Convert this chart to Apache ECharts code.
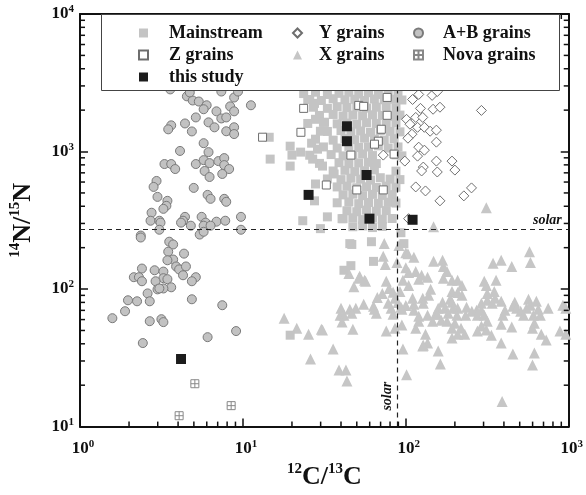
<!DOCTYPE html>
<html><head><meta charset="utf-8">
<script src="https://cdn.jsdelivr.net/npm/echarts@6.0.0/dist/echarts.min.js"></script>
<style>html,body{margin:0;padding:0;background:#fff}#c{width:586px;height:495px}</style>
</head><body><div id="c"></div>
<script>
// ---- data: [12C/13C, 14N/15N] ----
const mainstream = [
[23.6,2640],[27.9,2700],[33.0,2600],[38.9,2650],[44.7,2700],[51.4,2620],[59.0,2680],[67.8,2600],[77.9,2660],[89.5,2640],
[25.7,2390],[30.3,2350],[35.8,2420],[42.3,2380],[48.6,2400],[55.8,2350],[64.1,2410],[73.7,2380],[84.7,2400],[94.6,2370],
[27.1,2100],[33.0,2060],[37.9,2120],[43.5,2090],[50.0,2110],[57.4,2070],[65.9,2100],[75.8,2130],[87.0,2080],
[29.5,1830],[35.8,1860],[41.2,1810],[47.3,1840],[54.3,1820],[62.4,1850],[71.7,1830],[82.4,1800],[92.0,1840],
[25.0,1600],[31.2,1630],[37.9,1590],[43.5,1610],[50.0,1580],[57.4,1620],[65.9,1600],[75.8,1590],[87.0,1620],
[33.0,1400],[40.0,1420],[46.0,1390],[52.8,1410],[60.7,1380],[69.7,1420],[80.1,1400],[92.0,1390],
[27.9,1230],[35.8,1210],[42.3,1240],[48.6,1220],[55.8,1250],[64.1,1230],[73.7,1210],[84.7,1240],
[31.2,1080],[37.9,1060],[44.7,1090],[51.4,1070],[59.0,1080],[67.8,1100],[77.9,1060],[89.5,1080],
[25.7,940],[34.8,950],[41.2,930],[47.3,945],[54.3,960],[62.4,935],[87.0,945],[94.6,930],
[29.5,820],[38.9,830],[44.7,815],[51.4,826],[59.0,835],[65.9,818],
[35.8,722],[42.3,730],[48.6,715],[55.8,725],[64.1,735],[87.0,720],
[33.0,632],[40.0,625],[46.0,640],[52.8,630],[60.7,620],[69.7,645],[80.1,630],[92.0,625],
[37.9,553],[43.5,560],[50.0,545],[57.4,555],[65.9,548],[75.8,560],[87.0,550],
[41.2,484],[47.3,490],[54.3,478],[62.4,488],[71.7,480],[82.4,486],
[37.9,424],[44.7,430],[51.4,418],[59.0,426],[67.8,420],[77.9,428],[87.0,422],
[43.5,371],[50.0,365],[57.4,375],[65.9,368],[75.8,372],
[41.2,325],[47.3,330],[54.3,320],[62.4,328],[71.7,322],[82.4,326],
[47.3,284],[54.3,288],[62.4,280],[71.7,285],
[14.5,1270],[14.7,881],[19.5,1094],[20.0,942],[22.6,990],[19.5,784],[25.0,2390],[27.5,2240],[27.9,1715],[31.7,1630],
[29.9,1404],[26.4,1150],[28.7,1040],[26.8,881],[30.8,784],[36.3,687],[27.9,581],[27.5,438],[23.3,314],[29.9,275],
[33.0,335],[40.6,325],[46.6,211],[61.5,221],[63.3,159],[46.0,148],[41.7,137],[93.3,257],[97.3,214],[19.5,46.2],[45.3,214]
];
const yGrains = [
[120,2600],[110,2390],[145,2560],[156,2730],[123,2060],[147,2030],[162,2100],[291,1990],[101,1715],[106,1580],
[115,1770],[127,1770],[118,1500],[130,1500],[141,1405],[154,1430],[109,1336],[103,1250],[154,1170],[120,1076],
[130,1023],[118,926],[72.7,942],[98.6,852],[154,852],[192,852],[128,771],[125,722],[156,710],[200,733],
[115,553],[132,517],[162,438],[227,476],[253,544],[104,325]
];
const abGrains = [
[3.58,2830],[4.53,2520],[4.92,2350],[5.36,2310],[5.99,2170],[5.74,2030],[6.88,1960],[7.37,1740],[7.9,1770],[8.35,2130],
[8.83,2470],[9.33,2730],[8.83,1960],[11.2,2170],[5.14,1770],[3.63,1550],[3.48,1450],[4.41,1600],[4.86,1400],[6.15,1630],
[6.69,1500],[7.9,1404],[8.83,1501],[8.83,1340],[5.74,1150],[4.11,1010],[6.15,990],[3.3,811],[3.63,811],[3.84,746],
[5.14,811],[5.74,866],[6.24,824],[7.07,852],[7.68,896],[7.68,797],[8.23,746],[5.82,722],[6.24,653],[7.47,687],
[2.95,611],[2.83,553],[4.99,544],[2.99,468],[6.07,484],[6.33,453],[7.68,453],[7.9,431],[3.44,438],[3.39,403],
[3.25,383],[2.75,359],[2.71,314],[3.07,314],[4.41,335],[4.29,314],[5.58,335],[5.9,304],[6.88,309],[7.79,314],
[9.73,335],[3.12,304],[3.07,270],[4.17,304],[4.79,289],[5.74,289],[6.33,289],[5.43,249],[5.74,261],[9.73,270],
[2.36,245],[2.36,237],[3.53,221],[3.73,211],[3.48,187],[3.73,164],[3.44,162],[4.35,181],[3.89,146],[4.06,139],
[4.47,146],[4.29,126],[5.14,122],[4.86,114],[2.4,141],[2.14,122],[2.3,122],[2.4,114],[2.87,137],[3.25,134],
[3.25,120],[3.44,118],[2.91,114],[3.63,103],[3.25,101],[2.99,99.5],[3.07,101],[2.6,93],[1.97,82.9],[2.24,81.5],
[2.68,81.5],[1.89,69],[1.58,61.4],[2.68,58.4],[3.16,60.4],[3.25,57.5],[4.86,84.3],[7.47,76.3],[2.43,40.5],[6.07,44.7],
[9.08,49.5],[4.72,2690],[7.37,2730]
];
const zGrains = [
[13.2,1271],[22.7,1380],[23.6,2060],[51.4,2165],[55.1,2130],[76.8,2474],[76.8,1834],[70.7,1452],[67.8,1189],[64.2,1131],
[46.0,942],[84.7,958],[32.5,571],[50.0,526],[72.7,526]
];
const xGrains = [
[312,390],[148,284],[73.7,214],[90.7,207],[574,187],[385,162],[343,154],[447,146],[582,156],[72.7,173],
[74.8,151],[100,184],[112,170],[88.2,156],[148,159],[168,162],[170,146],[179,134],[100,143],[104,132],
[115,134],[125,126],[136,122],[120,118],[96,116],[104,106],[92,96],[51.4,120],[56.6,114],[48,104],
[44.7,130],[75.8,114],[79,101],[71.7,93],[66.8,87],[83.5,95],[85.8,85.7],[89.5,80],[100,76],[94.6,71.3],
[81.2,72.5],[83.5,65.6],[63.3,75],[65.9,66.7],[55.1,77.5],[49.3,72.5],[45.3,71.3],[40,72.5],[41.7,64.5],[39.5,64.5],
[40.6,57.5],[47.3,51.1],[75.8,49.5],[85.8,52],[94.6,54.7],[25.3,47],[30.8,50.3],[21.4,52],[17.9,61.4],[26,31],
[35.8,36.6],[38.9,25.8],[42.9,25.8],[43.5,21.5],[96,36.6],[101,23.8],[127,38.5],[136,40.5],[132,47],[115,52],
[120,58.4],[136,64.5],[146,58.4],[152,65.6],[138,90],[142,99.5],[127,85.7],[128,78.9],[110,85.7],[112,77.5],
[112,70.1],[120,63.5],[170,120],[192,116],[208,116],[221,106],[192,96],[208,94.6],[221,90],[187,84.3],
[192,80.2],[168,80.2],[174,72.5],[195,72.5],[208,72.5],[182,66.7],[206,64.5],[233,64.5],[158,72.5],[156,65.6],
[165,59.4],[179,58.4],[200,56.5],[192,52],[218,52],[208,47],[230,47],[192,44],[236,73.7],[254,69],
[272,70.1],[291,70.1],[275,64.5],[303,64.5],[291,78.9],[316,82.9],[339,78.9],[353,85.7],[385,81.5],[316,93],
[349,96],[312,106],[303,114],[358,116],[316,58.4],[291,53.8],[275,49.5],[312,50.3],[335,46.2],[385,55.6],
[395,64.5],[406,70.1],[447,52.9],[454,75],[466,80.2],[479,72.5],[507,69],[528,64.5],[551,72.5],[566,84.3],
[582,76.3],[633,81.5],[607,64.5],[669,64.5],[650,71.3],[748,72.5],[615,56.5],[599,52],[678,47],[727,42.6],
[920,76.3],[959,72.5],[883,49.5],[959,47],[385,40.5],[454,33.7],[615,34.3],[599,28.1],[390,15.2],[158,35.5],
[163,28.5],[128,39.1],[103,181],[77.9,78.9],[93.3,73.7],[64.1,71.3],[55.8,116],[52.1,124],[46.6,66.7],[30.3,51.1]
];
const novaGrains = [[5.07,20.5],[8.47,14.2],[4.06,12.0]];
const thisStudy = [[43.5,1526],[43.5,1189],[57.4,675],[25.3,484],[59.8,325],[110,319],[4.17,31.0]];
const solarC = 89;   // solar 12C/13C
const solarN = 272;  // solar 14N/15N
const xMinorTicks = [2,3,4,5,6,7,8,9,20,30,40,50,60,70,80,90,200,300,400,500,600,700,800,900];
const yMinorTicks = [20,30,40,50,60,70,80,90,200,300,400,500,600,700,800,900,2000,3000,4000,5000,6000,7000,8000,9000];
const X_MIN = 1, X_MAX = 1000, Y_MIN = 10, Y_MAX = 10000;

const FONT = 'Liberation Serif';
const chart = echarts.init(document.getElementById('c'), null, {renderer: 'canvas'});

function expLabel(v) {
  const e = Math.round(Math.log10(v));
  return '{b|10}{s|' + e + '}';
}
const labelRich = {
  b: {fontFamily: FONT, fontWeight: 'bold', fontSize: 17, color: '#111', lineHeight: 20},
  s: {fontFamily: FONT, fontWeight: 'bold', fontSize: 11, color: '#111', verticalAlign: 'top', lineHeight: 12}
};
const nameRich = {
  b: {fontFamily: FONT, fontWeight: 'bold', fontSize: 26, color: '#111', lineHeight: 30},
  s: {fontFamily: FONT, fontWeight: 'bold', fontSize: 15, color: '#111', verticalAlign: 'top', lineHeight: 16}
};
const axisLine = {show: true, onZero: false, lineStyle: {color: '#111', width: 2}};
const axisTick = {show: true, inside: true, length: 8, lineStyle: {color: '#111', width: 1.5}};

function minorTickSeries(values, isX) {
  return {
    type: 'custom', silent: true, z: 8, clip: false,
    data: values.map(v => isX ? [v, 100] : [10, v]),
    renderItem: function (params, api) {
      const L = 5, st = {stroke: '#111', lineWidth: 1.5};
      if (isX) {
        const v = api.value(0);
        const a = api.coord([v, Y_MIN]), b = api.coord([v, Y_MAX]);
        return {type: 'group', children: [
          {type: 'line', shape: {x1: a[0], y1: a[1], x2: a[0], y2: a[1] - L}, style: st},
          {type: 'line', shape: {x1: b[0], y1: b[1], x2: b[0], y2: b[1] + L}, style: st}
        ]};
      } else {
        const v = api.value(1);
        const a = api.coord([X_MIN, v]), b = api.coord([X_MAX, v]);
        return {type: 'group', children: [
          {type: 'line', shape: {x1: a[0], y1: a[1], x2: a[0] + L, y2: a[1]}, style: st},
          {type: 'line', shape: {x1: b[0], y1: b[1], x2: b[0] - L, y2: b[1]}, style: st}
        ]};
      }
    }
  };
}

function legendCol(left, textPad, names) {
  return {
    orient: 'vertical', left: left, top: 22, padding: 0, itemGap: 0,
    itemWidth: 9, itemHeight: 9, selectedMode: false, z: 20,
    textStyle: {fontFamily: FONT, fontWeight: 'bold', fontSize: 18, color: '#111', lineHeight: 22,
                padding: [0, 0, 0, textPad]},
    data: names
  };
}

const option = {
  animation: false,
  backgroundColor: '#fff',
  grid: {left: 78, right: 10, top: 14, bottom: 68, containLabel: false},
  xAxis: [
    {type: 'log', logBase: 10, min: X_MIN, max: X_MAX, position: 'bottom',
     axisLine: axisLine, axisTick: axisTick, splitLine: {show: false},
     axisLabel: {formatter: expLabel, rich: labelRich, margin: 12, padding: [0, 0, 0, 6]},
     name: '{s|12}{b|C/}{s|13}{b|C}', nameLocation: 'middle', nameGap: 25,
     nameTextStyle: {rich: nameRich}},
    {type: 'log', logBase: 10, min: X_MIN, max: X_MAX, position: 'top',
     axisLine: axisLine, axisTick: axisTick, splitLine: {show: false}, axisLabel: {show: false}}
  ],
  yAxis: [
    {type: 'log', logBase: 10, min: Y_MIN, max: Y_MAX, position: 'left',
     axisLine: axisLine, axisTick: axisTick, splitLine: {show: false},
     axisLabel: {formatter: expLabel, rich: labelRich, margin: 6},
     name: '{s|14}{b|N/}{s|15}{b|N}', nameLocation: 'middle', nameGap: 42, nameRotate: 90,
     nameTextStyle: {rich: nameRich}},
    {type: 'log', logBase: 10, min: Y_MIN, max: Y_MAX, position: 'right',
     axisLine: axisLine, axisTick: axisTick, splitLine: {show: false}, axisLabel: {show: false}}
  ],
  legend: [
    legendCol(138, 16, ['Mainstream', 'Z grains', 'this study']),
    legendCol(292, 12, ['Y grains', 'X grains']),
    legendCol(413, 15, ['A+B grains', 'Nova grains'])
  ],
  graphic: [
    {type: 'rect', z: 10, silent: true, shape: {x: 101.5, y: 14.5, width: 458, height: 76},
     style: {fill: '#fff', stroke: '#444', lineWidth: 1}}
  ],
  series: [
    {name: 'X grains', type: 'scatter', z: 2, data: xGrains, symbol: 'triangle', symbolSize: 11,
     itemStyle: {color: '#c6c6c6', opacity: 1}},
    {name: 'Mainstream', type: 'scatter', z: 2, data: mainstream, symbol: 'rect', symbolSize: 9,
     itemStyle: {color: '#c4c4c4', opacity: 1}},
    {name: 'A+B grains', type: 'scatter', z: 2, data: abGrains, symbol: 'circle', symbolSize: 9,
     itemStyle: {color: '#c2c2c2', borderColor: '#7a7a7a', borderWidth: 1, opacity: 1}},
    {name: 'Y grains', type: 'scatter', z: 2, data: yGrains, symbol: 'diamond', symbolSize: 10,
     itemStyle: {color: '#fff', borderColor: '#6e6e6e', borderWidth: 1, opacity: 1}},
    {name: 'Z grains', type: 'scatter', z: 2, data: zGrains, symbol: 'rect', symbolSize: 8,
     itemStyle: {color: '#fff', borderColor: '#6e6e6e', borderWidth: 1, opacity: 1}},
    {name: 'Nova grains', type: 'scatter', z: 2, data: novaGrains,
     symbol: 'path://M0,0H10V10H0Z M5,0V10 M0,5H10', symbolSize: 8,
     itemStyle: {color: '#fff', borderColor: '#888', borderWidth: 1, opacity: 1}},
    {name: 'this study', type: 'scatter', z: 3, data: thisStudy, symbol: 'rect', symbolSize: 10,
     itemStyle: {color: '#1c1c1c', opacity: 1}},
    {name: 'solar', type: 'scatter', z: 4, data: [], silent: true,
     markLine: {silent: true, symbol: ['none', 'none'], animation: false,
       lineStyle: {color: '#222', width: 1.2, type: [5, 4]},
       data: [
         {yAxis: solarN, label: {show: true, position: 'insideEndTop', formatter: 'solar', distance: [7, 2],
           fontFamily: FONT, fontStyle: 'italic', fontWeight: 'bold', fontSize: 14, color: '#111'}},
         {xAxis: solarC, label: {show: true, position: 'insideStartTop', formatter: 'solar', distance: [16, 3],
           fontFamily: FONT, fontStyle: 'italic', fontWeight: 'bold', fontSize: 14, color: '#111'}}
       ]}},
    minorTickSeries(xMinorTicks, true),
    minorTickSeries(yMinorTicks, false)
  ]
};
chart.setOption(option);
</script>
</body></html>
